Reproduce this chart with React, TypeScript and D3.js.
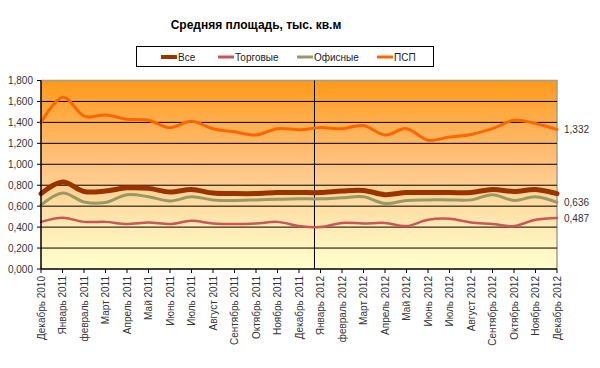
import * as d3 from 'd3'

const months = [
  'Декабрь 2010', 'Январь 2011', 'февраль 2011', 'Март 2011', 'Апрель 2011', 'Май 2011',
  'Июнь 2011', 'Июль 2011', 'Август 2011', 'Сентябрь 2011', 'Октябрь 2011', 'Ноябрь 2011',
  'Декабрь 2011', 'Январь 2012', 'февраль 2012', 'Март 2012', 'Апрель 2012', 'Май 2012',
  'Июнь 2012', 'Июль 2012', 'Август 2012', 'Сентябрь 2012', 'Октябрь 2012', 'Ноябрь 2012',
  'Декабрь 2012',
]

const vse = [
  0.72, 0.83, 0.74, 0.745, 0.775, 0.77, 0.735, 0.76, 0.725, 0.72, 0.72, 0.73,
  0.73, 0.73, 0.745, 0.75, 0.71, 0.73, 0.73, 0.73, 0.73, 0.76, 0.74, 0.76, 0.72,
]
const torg = [
  0.45, 0.49, 0.45, 0.45, 0.43, 0.445, 0.43, 0.46, 0.435, 0.43, 0.435, 0.45,
  0.41, 0.40, 0.44, 0.435, 0.44, 0.41, 0.47, 0.48, 0.445, 0.43, 0.41, 0.47, 0.487,
]
const ofis = [
  0.61, 0.725, 0.64, 0.635, 0.71, 0.69, 0.65, 0.69, 0.66, 0.655, 0.66, 0.665,
  0.67, 0.67, 0.68, 0.69, 0.625, 0.655, 0.66, 0.66, 0.66, 0.71, 0.655, 0.69, 0.636,
]
const psp = [
  1.40, 1.64, 1.46, 1.47, 1.43, 1.42, 1.35, 1.41, 1.34, 1.31, 1.28, 1.34,
  1.33, 1.35, 1.34, 1.37, 1.28, 1.34, 1.23, 1.26, 1.285, 1.34, 1.42, 1.39, 1.332,
]

const yTicks = [0, 0.2, 0.4, 0.6, 0.8, 1.0, 1.2, 1.4, 1.6, 1.8]

const series = [
  { name: 'Все', values: vse, color: '#993300', width: 5, label: false },
  { name: 'Торговые', values: torg, color: '#cc5555', width: 2.5, label: true },
  { name: 'Офисные', values: ofis, color: '#999966', width: 3, label: true },
  { name: 'ПСП', values: psp, color: '#ff6600', width: 3, label: true },
]

const W = 600
const H = 368
const plot = { left: 41, right: 557, top: 80.5, bottom: 269 }
const font = '"Liberation Sans", Arial, sans-serif'

const fmt = (v: number) => d3.format('.3f')(v).replace('.', ',')

export default function App() {
  const x = d3.scalePoint<string>().domain(months).range([plot.left, plot.right])
  const y = d3.scaleLinear().domain([0, 1.8]).range([plot.bottom, plot.top])
  const step = x.step()

  const line = d3
    .line<number>()
    .x((_, i) => x(months[i]) as number)
    .y((v) => y(v))
    .curve(d3.curveCatmullRom.alpha(0))

  const sepX = (x('Январь 2012') as number) - step * 0.28
  const legendItems = [
    { s: series[0], x: 161 },
    { s: series[1], x: 218 },
    { s: series[2], x: 297 },
    { s: series[3], x: 377 },
  ]

  return (
    <svg
      width={W}
      height={H}
      style={{ position: 'absolute', left: 0, top: 0, background: '#fff' }}
      fontFamily={font}
    >
      <defs>
        <linearGradient id="bg" x1="0" y1="0" x2="0" y2="1">
          <stop offset="0%" stopColor="#ff9a1a" />
          <stop offset="45%" stopColor="#ffc382" />
          <stop offset="75%" stopColor="#ffe8b0" />
          <stop offset="100%" stopColor="#ffffcc" />
        </linearGradient>
      </defs>

      <text x={256} y={29} textAnchor="middle" fontSize={12} fontWeight="bold" fill="#000">
        Средняя площадь, тыс. кв.м
      </text>

      <rect x={136.5} y={46.5} width={297} height={20} fill="#fff" stroke="#000" strokeWidth={1} />
      {legendItems.map(({ s, x: lx }) => (
        <g key={s.name}>
          <line x1={lx} x2={lx + 16} y1={57} y2={57} stroke={s.color} strokeWidth={s.width === 5 ? 4 : 3} />
          <text x={lx + 17} y={60.5} fontSize={10} fill="#222">
            {s.name}
          </text>
        </g>
      ))}

      <rect
        x={plot.left}
        y={plot.top}
        width={plot.right - plot.left}
        height={plot.bottom - plot.top}
        fill="url(#bg)"
      />
      <path
        d={`M${plot.left},${plot.top}H${plot.right}V${plot.bottom}`}
        fill="none"
        stroke="#a89c8a"
        strokeWidth={1.5}
      />

      {yTicks.map((t) => (
        <g key={t}>
          {t > 0 && t < 1.8 && (
            <line x1={plot.left} x2={plot.right} y1={y(t)} y2={y(t)} stroke="#000" strokeWidth={1} />
          )}
          <line x1={plot.left - 4} x2={plot.left} y1={y(t)} y2={y(t)} stroke="#000" />
          <text x={33} y={y(t)} dy="0.35em" textAnchor="end" fontSize={10} fill="#333">
            {fmt(t)}
          </text>
        </g>
      ))}

      <line x1={sepX} x2={sepX} y1={plot.top} y2={plot.bottom} stroke="#000" strokeWidth={1} />

      {series.map((s) => (
        <path
          key={s.name}
          d={line(s.values) as string}
          fill="none"
          stroke={s.color}
          strokeWidth={s.width}
          strokeLinejoin="round"
          strokeLinecap="round"
        />
      ))}

      <line x1={plot.left} x2={plot.left} y1={plot.top} y2={plot.bottom} stroke="#000" strokeWidth={1.5} />
      <line x1={plot.left} x2={plot.right} y1={plot.bottom} y2={plot.bottom} stroke="#000" strokeWidth={1.5} />

      {months.map((m) => {
        const mx = x(m) as number
        return (
          <g key={m}>
            <line x1={mx} x2={mx} y1={plot.bottom} y2={plot.bottom + 4} stroke="#000" />
            <text
              transform={`translate(${mx + 3.5},${plot.bottom + 7}) rotate(-90)`}
              textAnchor="end"
              fontSize={10}
              fill="#333"
            >
              {m}
            </text>
          </g>
        )
      })}

      {series
        .filter((s) => s.label)
        .map((s) => {
          const v = s.values[s.values.length - 1]
          return (
            <text key={s.name} x={564} y={y(v)} dy="0.35em" fontSize={10} fill="#333">
              {fmt(v)}
            </text>
          )
        })}
    </svg>
  )
}
